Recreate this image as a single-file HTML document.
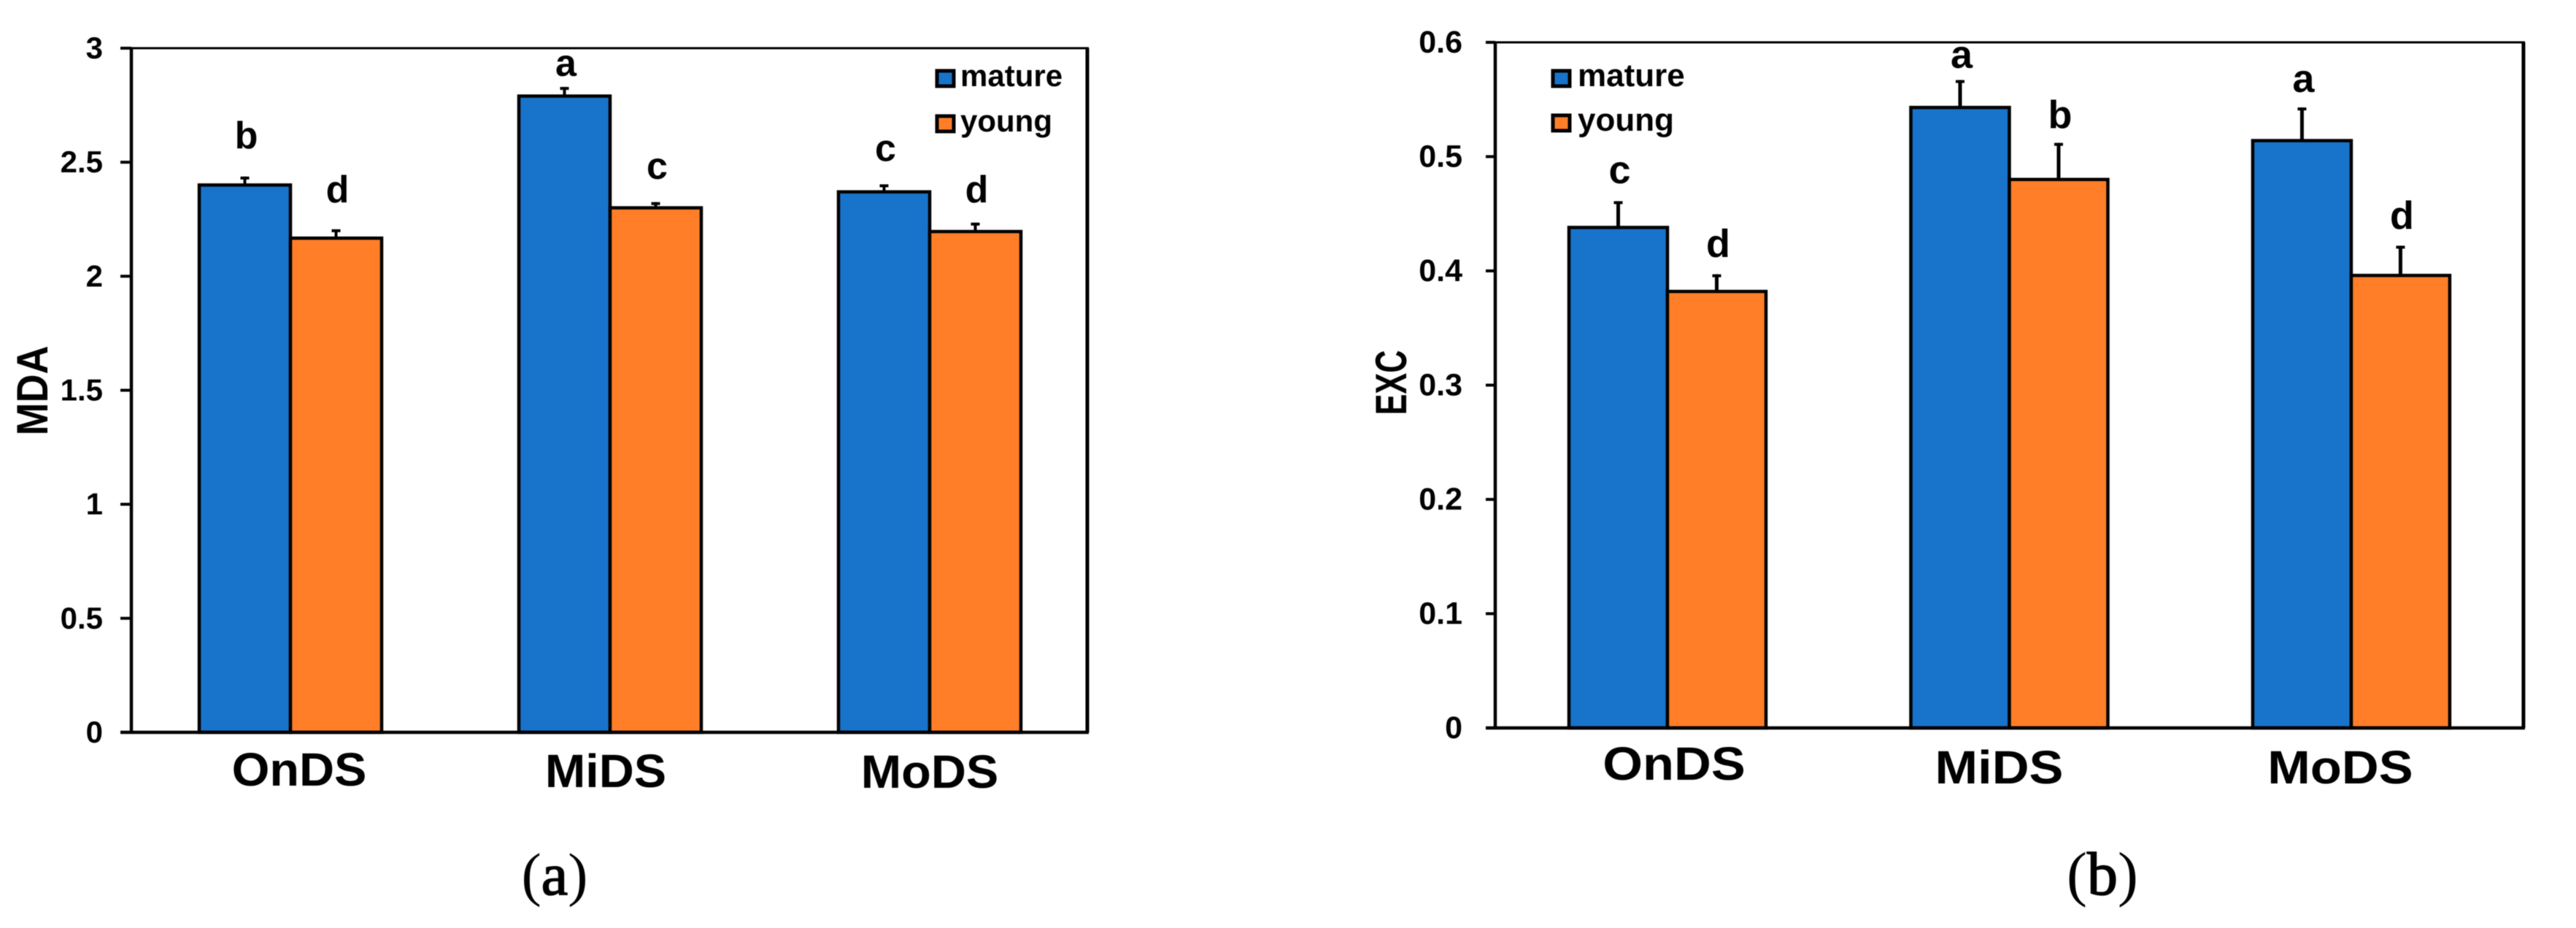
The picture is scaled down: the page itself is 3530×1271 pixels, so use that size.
<!DOCTYPE html>
<html lang="en">
<head>
<meta charset="utf-8">
<title>MDA and EXC bar charts</title>
<style>
html,body{margin:0;padding:0;background:#fff;width:3530px;height:1271px;overflow:hidden}
svg{display:block;filter:blur(0.6px)}
text{font-family:"Liberation Sans",Arial,sans-serif;fill:#000}
</style>
</head>
<body>
<svg id="figure" xmlns="http://www.w3.org/2000/svg" width="3530" height="1271" viewBox="0 0 3530 1271">
  <rect x="0" y="0" width="3530" height="1271" fill="#ffffff"/>
  <text x="760" y="1225" text-anchor="middle" font-size="82" style="font-family:'Liberation Serif',serif">(<tspan stroke="#000" stroke-width="1.6">a</tspan>)</text>
  <text x="2881" y="1225" text-anchor="middle" font-size="84" style="font-family:'Liberation Serif',serif">(<tspan stroke="#000" stroke-width="1.6">b</tspan>)</text>
</svg>
<script>
var categories = ['OnDS', 'MiDS', 'MoDS'];
var seriesNames = ['mature', 'young'];

var mdaTicks = ['0', '0.5', '1', '1.5', '2', '2.5', '3'];
var mdaMature = [2.40, 2.79, 2.37];
var mdaYoung = [2.167, 2.30, 2.196];
var mdaMatureErr = [0.037, 0.04, 0.033];
var mdaYoungErr = [0.039, 0.025, 0.039];
var mdaMatureLetters = ['b', 'a', 'c'];
var mdaYoungLetters = ['d', 'c', 'd'];
var mdaMatureLetterGap = [0.125, 0.048, 0.102];
var mdaYoungLetterGap = [0.118, 0.102, 0.09];

var excTicks = ['0', '0.1', '0.2', '0.3', '0.4', '0.5', '0.6'];
var excMature = [0.438, 0.543, 0.514];
var excYoung = [0.382, 0.480, 0.396];
var excMatureErr = [0.023, 0.024, 0.029];
var excYoungErr = [0.015, 0.032, 0.026];
var excMatureLetters = ['c', 'a', 'a'];
var excYoungLetters = ['d', 'b', 'd'];
var excMatureLetterGap = [0.0157, 0.0105, 0.0134];
var excYoungLetterGap = [0.0153, 0.0128, 0.0147];

var SVG_NS = 'http://www.w3.org/2000/svg';
var figure = document.getElementById('figure');

function make(tag, parent, attrs, content) {
  var el = document.createElementNS(SVG_NS, tag);
  for (var k in attrs) { el.setAttribute(k, attrs[k]); }
  if (content !== undefined) { el.textContent = content; }
  parent.appendChild(el);
  return el;
}

function drawChart(cfg) {
  var group = make('g', figure, {});
  
  

  function yScale(v) { return cfg.bottom - (v / cfg.yMax) * (cfg.bottom - cfg.top); }
  function groupCenter(i) { return cfg.firstCenter + i * cfg.groupStep; }

  // plot frame
  var frameTop = make('line', group, {x1: cfg.tickLeft, x2: cfg.right + 2, y1: cfg.top, y2: cfg.top, stroke: '#000', 'stroke-width': 3});
  
  
  var frameRight = make('line', group, {x1: cfg.right, x2: cfg.right, y1: cfg.top, y2: cfg.bottom, stroke: '#000', 'stroke-width': 5});
  
  
  var frameLeft = make('line', group, {x1: cfg.left, x2: cfg.left, y1: cfg.top, y2: cfg.bottom, stroke: '#000', 'stroke-width': 4.5});
  
  

  // y ticks
  cfg.ticks.forEach(function (label) {
    var y = yScale(parseFloat(label));
    var tick = make('line', group, {x1: cfg.tickLeft, x2: cfg.left, y1: y, y2: y, stroke: '#000', 'stroke-width': 4});
    
    
    var tickText = make('text', group, {x: cfg.tickTextX, y: y + 14, 'text-anchor': 'end', 'font-size': cfg.tickFont, 'font-weight': 'bold'}, label);
    
    
  });

  // bars, error bars and letters
  function drawSeries(values, errs, letters, gaps, offset, fill, name) {
    values.forEach(function (v, i) {
      var c = groupCenter(i);
      var x0 = offset < 0 ? c - cfg.barWidth : c;
      var yTop = yScale(v);
      var cx = x0 + cfg.barWidth / 2;
      var yErr = yScale(v + errs[i]);

      var stem = make('line', group, {x1: cx, x2: cx, y1: yTop, y2: yErr, stroke: '#000', 'stroke-width': cfg.errWidth});
      
      
      var cap = make('line', group, {x1: cx - 6, x2: cx + 6, y1: yErr + 2, y2: yErr + 2, stroke: '#000', 'stroke-width': 4});
      
      

      var bar = make('rect', group, {x: x0, y: yTop, width: cfg.barWidth, height: cfg.bottom - yTop, fill: fill, stroke: '#000', 'stroke-width': 4.5});
      
      

      var letter = make('text', group, {x: cx + 2, y: yScale(v + errs[i] + gaps[i]), 'text-anchor': 'middle', 'font-size': cfg.letterFont, 'font-weight': 'bold'}, letters[i]);
      
      
    });
  }
  drawSeries(cfg.mature, cfg.matureErr, cfg.matureLetters, cfg.matureGap, -1, '#1873CA', 'mature');
  drawSeries(cfg.young, cfg.youngErr, cfg.youngLetters, cfg.youngGap, 1, '#FF7E27', 'young');

  // x axis on top of bar bottoms
  var xAxis = make('line', group, {x1: cfg.tickLeft, x2: cfg.right + 2, y1: cfg.bottom, y2: cfg.bottom, stroke: '#000', 'stroke-width': 4.5});
  
  

  // category labels
  categories.forEach(function (cat, i) {
    var label = make('text', group, {
      transform: 'translate(' + (groupCenter(i) + cfg.catShift[i]) + ',' + cfg.catBaseline[i] + ') scale(' + cfg.catScale + ',1)',
      'text-anchor': 'middle', 'font-size': 64, 'font-weight': 'bold'
    }, cat);
    
    
  });

  // y axis title
  var title = make('text', group, {
    transform: 'translate(' + cfg.titleX + ',' + cfg.titleY + ') rotate(-90) scale(' + cfg.titleScale + ',1)',
    'text-anchor': 'middle', 'font-size': cfg.titleFont, 'font-weight': 'bold'
  }, cfg.title);
  
  

  // legend
  seriesNames.forEach(function (name, i) {
    var y = cfg.legendY[i];
    var swatch = make('rect', group, {x: cfg.legendX, y: y, width: 23, height: 21, fill: i === 0 ? '#1873CA' : '#FF7E27', stroke: '#000', 'stroke-width': 5});
    
    
    var text = make('text', group, {x: cfg.legendTextX, y: y + 21, 'font-size': cfg.legendFont, 'font-weight': 'bold'}, name);
    
    
  });
}

drawChart({
  id: 'mda', yMax: 3, top: 66, bottom: 1003, left: 180, right: 1490, tickLeft: 165,
  tickTextX: 141, tickFont: 42, firstCenter: 398, groupStep: 438, barWidth: 125,
  errWidth: 4, letterFont: 52, ticks: mdaTicks,
  mature: mdaMature, young: mdaYoung, matureErr: mdaMatureErr, youngErr: mdaYoungErr,
  matureLetters: mdaMatureLetters, youngLetters: mdaYoungLetters,
  matureGap: mdaMatureLetterGap, youngGap: mdaYoungLetterGap,
  catShift: [12, -6, 0], catBaseline: [1076, 1078, 1079], catScale: 1.04,
  title: 'MDA', titleFont: 60, titleX: 65, titleY: 535, titleScale: 0.9,
  legendX: 1284, legendY: [97, 159], legendTextX: 1316, legendFont: 42
});

drawChart({
  id: 'exc', yMax: 0.6, top: 58, bottom: 997, left: 2049, right: 3458, tickLeft: 2036,
  tickTextX: 2004, tickFont: 43, firstCenter: 2285, groupStep: 468.5, barWidth: 135,
  errWidth: 5, letterFont: 54, ticks: excTicks,
  mature: excMature, young: excYoung, matureErr: excMatureErr, youngErr: excYoungErr,
  matureLetters: excMatureLetters, youngLetters: excYoungLetters,
  matureGap: excMatureLetterGap, youngGap: excYoungLetterGap,
  catShift: [9, -14, -15], catBaseline: [1068, 1073, 1073], catScale: 1.1,
  title: 'EXC', titleFont: 60, titleX: 1927, titleY: 524, titleScale: 0.72,
  legendX: 2128, legendY: [97, 158], legendTextX: 2162, legendFont: 44
});
</script>
</body>
</html>
